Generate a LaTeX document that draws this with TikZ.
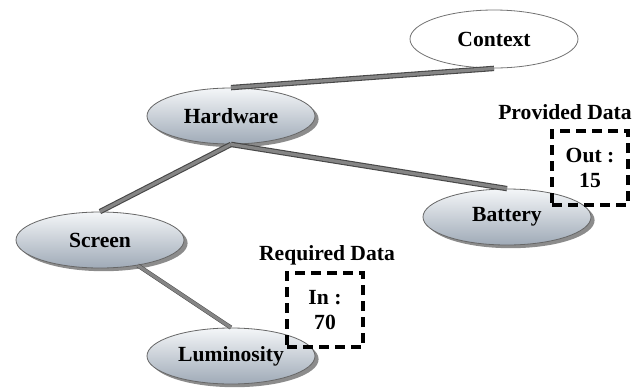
\documentclass[tikz,border=0pt]{standalone}
\usepackage{fontspec}
\setmainfont{Liberation Serif}
\usepackage{tikz}
\usetikzlibrary{shapes.geometric, shadows, positioning}
\usepackage{xcolor}

\definecolor{elltop}{HTML}{F4F6F8}
\definecolor{ellbot}{HTML}{9FAAB7}

\tikzset{
    concept/.style={ellipse, draw=black!60, thin, top color=elltop, bottom color=ellbot,
        minimum width=84pt, minimum height=28pt, inner sep=0pt,
        drop shadow={shadow xshift=1.8pt, shadow yshift=-1.6pt, opacity=0.6, fill=black!75}},
    root/.style={ellipse, draw=black!55, thin, fill=white,
        minimum width=84pt, minimum height=29pt, inner sep=0pt},
    link/.style={draw=black!72, line width=2.7pt,
        postaction={draw=black!48, line width=1.6pt}},
    databox/.style={draw, line width=2pt, dash pattern=on 5pt off 3pt,
        minimum width=38pt, minimum height=37pt, align=center, inner sep=0pt},
}

\begin{document}
\begin{tikzpicture}[x=0.5pt, y=-0.5pt, font=\bfseries\fontsize{10.8}{12.5}\selectfont]

    \useasboundingbox (0,0) rectangle (639,387);

    %ellipses
    \node[root] (context) at (494,39) {Context};
    \node[concept] (hardware) at (231,116) {Hardware};
    \node[concept] (screen) at (100,240) {Screen};
    \node[concept] (battery) at (507,217) {Battery};
    \node[concept] (luminosity) at (231,356) {Luminosity};

    %links
    \draw [link] (context.south) -- (hardware.north);
    \draw [link] (hardware.south) -- (screen.north);
    \draw [link] (hardware.south) -- (battery.north);
    \draw [link, line width=2.1pt] (screen.-34) -- (luminosity.north);

    %data boxes
    \node[databox] (outbox) at (590,168) {Out :\\15};
    \node[databox] (inbox) at (325,310) {In :\\70};

    \node (provided) at (565,112) {Provided Data};
    \node (required) at (327,255) {Required Data};

\end{tikzpicture}
\end{document}
